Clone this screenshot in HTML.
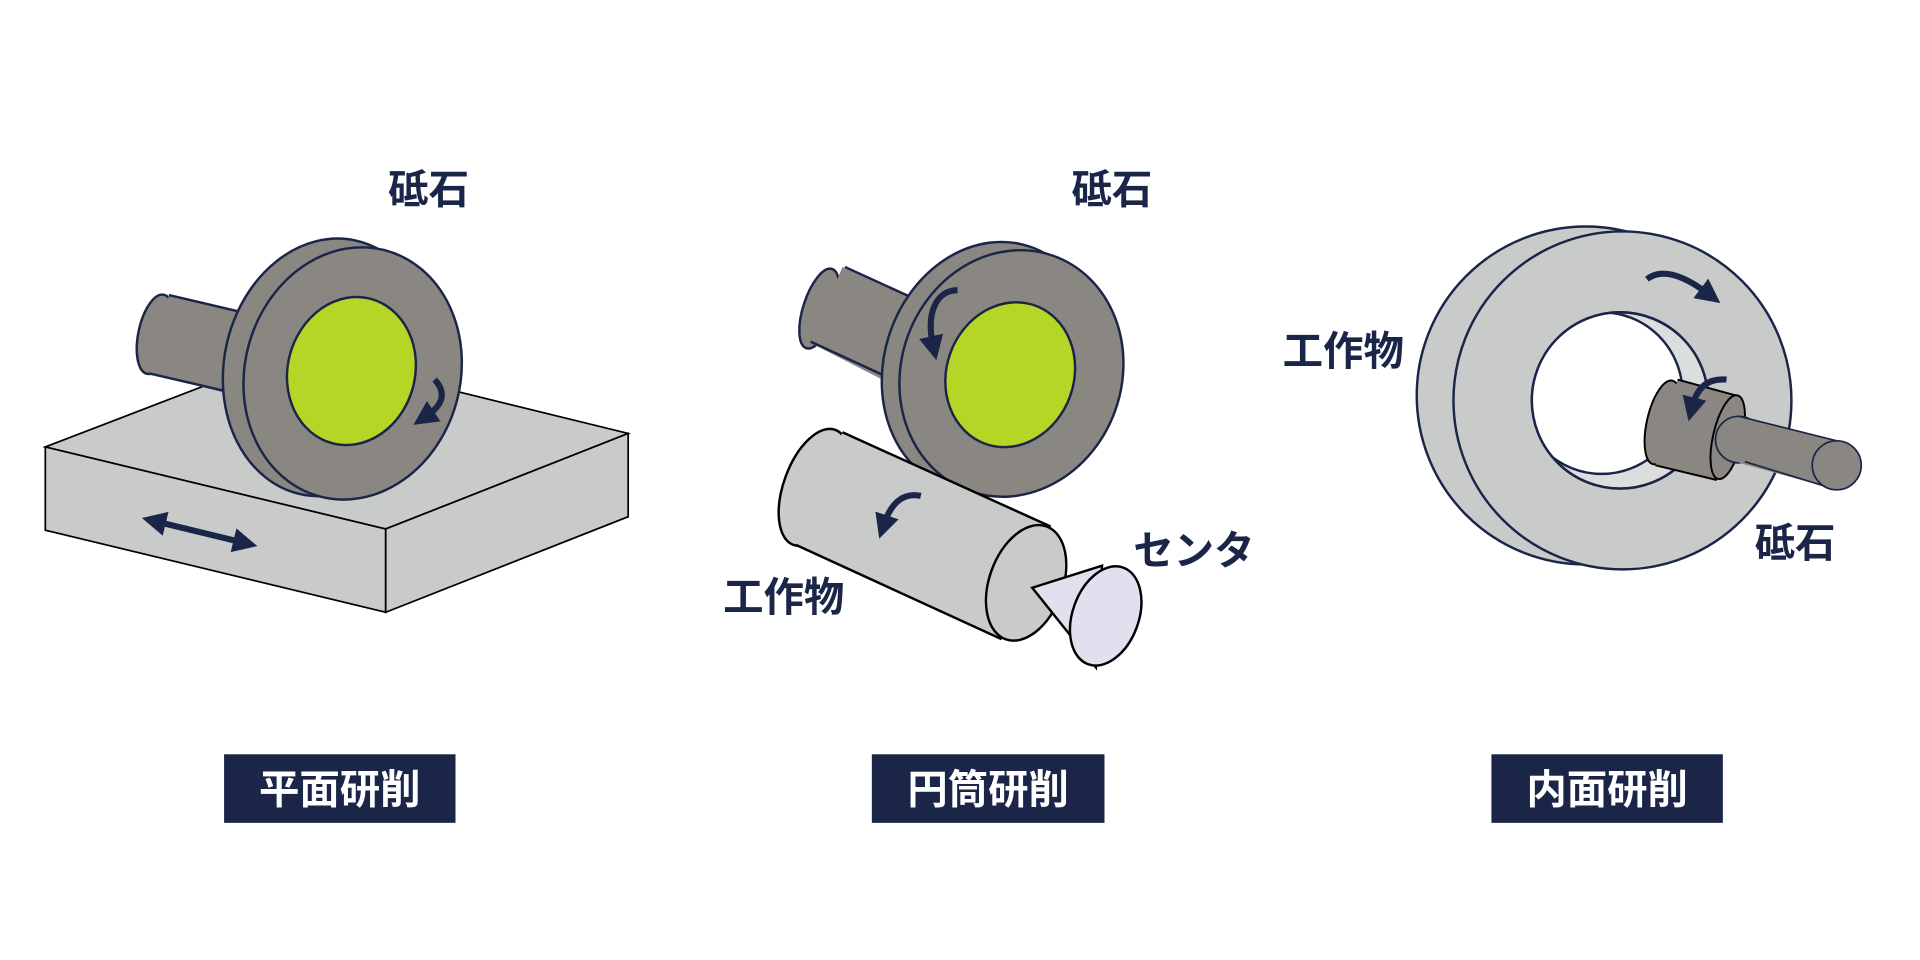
<!DOCTYPE html>
<html><head><meta charset="utf-8"><style>
html,body{margin:0;padding:0;background:#fff;width:1920px;height:960px;overflow:hidden}
svg{display:block}
text{font-family:"Liberation Sans","Noto Sans CJK JP",sans-serif;font-weight:bold}
</style></head><body>
<svg width="1920" height="960" viewBox="0 0 1568 784" preserveAspectRatio="none">
<defs>
<marker id="ah" markerWidth="4" markerHeight="4" refX="1.5" refY="2" orient="auto-start-reverse" markerUnits="strokeWidth"><path d="M0,0 L4,2 L0,4 z" fill="#1a2548"/></marker>
<clipPath id="hole"><circle cx="1323" cy="327" r="72"/></clipPath>
</defs>
<g stroke="#1a2548" stroke-width="2">
<!-- Panel 1 box -->
<polygon points="37,365 240,287 513,354 315,432" fill="#c9cbca" stroke="#000" stroke-width="1.4"/>
<polygon points="37,365 315,432 315,500 37,433" fill="#c9cbca" stroke="#000" stroke-width="1.4"/>
<polygon points="315,432 513,354 513,422 315,500" fill="#c9cbca" stroke="#000" stroke-width="1.4"/>
<!-- shaft -->
<ellipse cx="127" cy="273" rx="14" ry="33" transform="rotate(12 127 273)" fill="#8a8782"/>
<polygon points="138,241 215,259 200,325 122,305" fill="#8a8782" stroke="none"/>
<line x1="138" y1="241" x2="215" y2="259"/><line x1="122" y1="305" x2="200" y2="323"/>
<!-- wheel -->
<ellipse cx="268" cy="300" rx="85" ry="106" transform="rotate(12 268 300)" fill="#8a8782"/>
<ellipse cx="288" cy="305" rx="88" ry="104" transform="rotate(15 288 305)" fill="#8a8782"/>
<ellipse cx="287" cy="303" rx="52" ry="61" transform="rotate(15 287 303)" fill="#b5d627"/>
</g>
<g fill="none" stroke="#1a2548" stroke-width="5">
<path d="M355,310 C366,322 360,332 348,340" marker-end="url(#ah)"/>
<path d="M128,426 L198,443" marker-end="url(#ah)" marker-start="url(#ah)"/>
</g>
<!-- Panel 2 -->
<g stroke="#1a2548" stroke-width="2">
<ellipse cx="669" cy="252" rx="13" ry="34" transform="rotate(18 669 252)" fill="#8a8782"/>
<polygon points="688,218 760,250 740,320 662,280" fill="#8a8782" stroke="none"/>
<line x1="690" y1="218" x2="760" y2="250"/><line x1="662" y1="279" x2="740" y2="315"/>
<ellipse cx="808" cy="300" rx="86" ry="104" transform="rotate(18 808 300)" fill="#8a8782"/>
<ellipse cx="826" cy="305" rx="90" ry="102" transform="rotate(20 826 305)" fill="#8a8782"/>
<ellipse cx="825" cy="306" rx="52" ry="60" transform="rotate(20 825 306)" fill="#b5d627"/>
</g>
<g stroke="#000" stroke-width="2">
<ellipse cx="665" cy="398" rx="25" ry="50" transform="rotate(20 665 398)" fill="#c9cbca"/>
<polygon points="688,353 858,430 818,522 650,445" fill="#c9cbca" stroke="none"/>
<line x1="688" y1="353" x2="858" y2="430"/><line x1="650" y1="445" x2="818" y2="522"/>
<ellipse cx="838" cy="476" rx="30" ry="49" transform="rotate(20 838 476)" fill="#c9cbca"/>
<polygon points="843,480 900,462 895,545" fill="#e0e0ee"/>
<ellipse cx="903" cy="503" rx="27" ry="42" transform="rotate(20 903 503)" fill="#e0e0ee"/>
</g>
<g fill="none" stroke="#1a2548" stroke-width="5">
<path d="M782,237 C765,237 756,255 762,282" marker-end="url(#ah)"/>
<path d="M752,405 C738,402 728,410 722,428" marker-end="url(#ah)"/>
</g>
<!-- Panel 3 -->
<g stroke="#1a2548" stroke-width="2">
<circle cx="1295" cy="323" r="138" fill="#c9cbca"/>
<circle cx="1325" cy="327" r="138" fill="#c9cbca"/>
<circle cx="1323" cy="327" r="72" fill="#dcdedd"/>
<circle cx="1308" cy="321" r="66" fill="#fff" clip-path="url(#hole)"/>
<circle cx="1323" cy="327" r="72" fill="none"/>
</g>
<g stroke="#000" stroke-width="1.6">
<ellipse cx="1358" cy="345" rx="13" ry="35" transform="rotate(13 1358 345)" fill="#8a8782"/>
<polygon points="1370,310 1418,323 1402,392 1352,380" fill="#8a8782" stroke="none"/>
<line x1="1370" y1="310" x2="1418" y2="323"/><line x1="1352" y1="380" x2="1402" y2="392"/>
<ellipse cx="1411" cy="357" rx="12" ry="35" transform="rotate(13 1411 357)" fill="#8a8782"/>
</g>
<g stroke="#1a2548" stroke-width="1.4">
<circle cx="1420" cy="359" r="19" fill="#8a8782"/>
<polygon points="1420,340 1500,360 1500,400 1420,378" fill="#8a8782" stroke="none"/>
<line x1="1420" y1="340" x2="1500" y2="360"/><line x1="1425" y1="377" x2="1500" y2="400"/>
<circle cx="1500" cy="380" r="20" fill="#8a8782"/>
</g>
<g fill="none" stroke="#1a2548" stroke-width="5">
<path d="M1345,228 Q1362,215 1395,240" marker-end="url(#ah)"/>
<path d="M1410,310 Q1388,308 1382,332" marker-end="url(#ah)"/>
</g>
<!-- labels -->
<g fill="#1a2548" font-size="33">
<text x="350" y="166" text-anchor="middle">砥石</text>
<text x="908" y="166" text-anchor="middle">砥石</text>
<text x="640" y="499" text-anchor="middle">工作物</text>
<text x="975" y="461" text-anchor="middle">センタ</text>
<text x="1097" y="298" text-anchor="middle">工作物</text>
<text x="1466" y="455" text-anchor="middle">砥石</text>
</g>
<rect x="183" y="616" width="189" height="56" fill="#1a2548"/>
<rect x="712" y="616" width="190" height="56" fill="#1a2548"/>
<rect x="1218" y="616" width="189" height="56" fill="#1a2548"/>
<g fill="#fff" font-size="33" text-anchor="middle">
<text x="277.5" y="656">平面研削</text>
<text x="807" y="656">円筒研削</text>
<text x="1312.5" y="656">内面研削</text>
</g>
</svg>
</body></html>
